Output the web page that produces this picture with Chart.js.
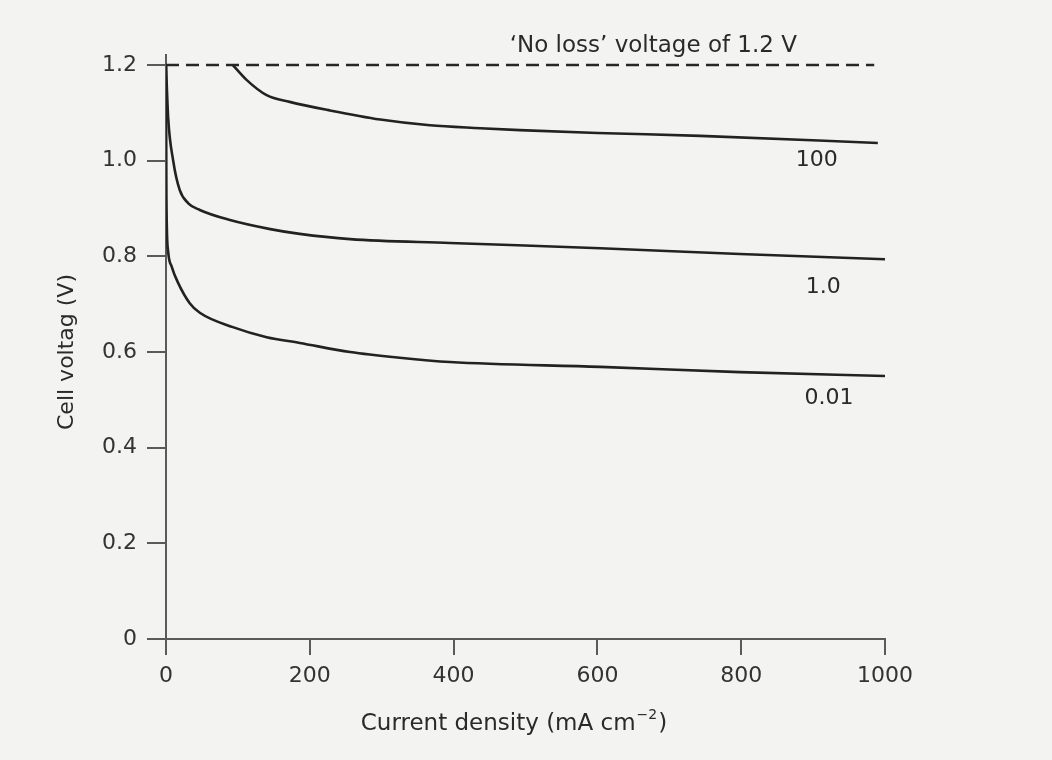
<!DOCTYPE html>
<html>
<head>
<meta charset="utf-8">
<script src="https://cdn.jsdelivr.net/npm/chart.js@4"></script>
<style>
  html, body { margin: 0; padding: 0; background: #f3f3f1; }
  #chart { display: block; }
</style>
</head>
<body>
<canvas id="chart" width="1052" height="760"></canvas>
<script>
// polarisation curves, current density in mA/cm2, cell voltage in V
const curve100X = [93, 112, 140, 172, 228, 298, 367, 437, 492, 600, 743, 990];
const curve100V = [1.2, 1.169, 1.137, 1.123, 1.105, 1.086, 1.074, 1.068, 1.064, 1.058, 1.052, 1.037];

const curve1X = [0, 3, 10, 19, 31, 47, 89, 145, 186, 256, 395, 604, 798, 1000];
const curve1V = [1.2, 1.09, 1.0, 0.939, 0.911, 0.897, 0.876, 0.857, 0.847, 0.836, 0.828, 0.817, 0.805, 0.794];

const curve001X = [0, 0.5, 1.2, 3, 8, 17, 33, 47, 93, 140, 186, 256, 325, 395, 604, 798, 1000];
const curve001V = [1.2, 0.95, 0.86, 0.81, 0.778, 0.744, 0.702, 0.682, 0.652, 0.631, 0.619, 0.600, 0.588, 0.579, 0.569, 0.558, 0.550];

const noLossX = [0, 985];
const noLossV = [1.2, 1.2];

const xTicks = [0, 200, 400, 600, 800, 1000];
const yTicks = [0, 0.2, 0.4, 0.6, 0.8, 1.0, 1.2];

const curveLabels = ['100', '1.0', '0.01'];

const toPoints = (xs, ys) => xs.map((x, i) => ({ x: x, y: ys[i] }));

const font = 'DejaVu Sans';
const ink = '#222';
const axisGrey = '#5a5a5a';

// text that is not part of the scales: curve names, the dashed line note, axis titles
const notes = {
  id: 'notes',
  afterDraw(chart) {
    const { ctx, scales: { x, y } } = chart;
    ctx.save();
    ctx.fillStyle = '#2a2a2a';
    ctx.font = '22px "' + font + '"';
    ctx.textAlign = 'center';
    ctx.textBaseline = 'middle';
    ctx.fillText(curveLabels[0], x.getPixelForValue(905), y.getPixelForValue(1.0));
    ctx.fillText(curveLabels[1], x.getPixelForValue(914), y.getPixelForValue(0.735));
    ctx.fillText(curveLabels[2], x.getPixelForValue(922), y.getPixelForValue(0.503));

    ctx.font = '23px "' + font + '"';
    ctx.textAlign = 'left';
    ctx.fillText('\u2018No loss\u2019 voltage of 1.2 V', x.getPixelForValue(478), 46);

    // y title
    ctx.save();
    ctx.font = '22px "' + font + '"';
    ctx.translate(67, 352);
    ctx.rotate(-Math.PI / 2);
    ctx.textAlign = 'center';
    ctx.fillText('Cell voltag (V)', 0, 0);
    ctx.restore();

    // x title with superscript
    const main = 'Current density (mA cm';
    const sup = '\u22122';
    const tail = ')';
    ctx.font = '23px "' + font + '"';
    const w1 = ctx.measureText(main).width;
    const w3 = ctx.measureText(tail).width;
    ctx.font = '14px "' + font + '"';
    const w2 = ctx.measureText(sup).width;
    let tx = 513 - (w1 + w2 + w3) / 2;
    const ty = 724;
    ctx.font = '23px "' + font + '"';
    ctx.fillText(main, tx, ty);
    tx += w1 + 1;
    ctx.font = '14px "' + font + '"';
    ctx.fillText(sup, tx, ty - 9);
    tx += w2 + 1;
    ctx.font = '23px "' + font + '"';
    ctx.fillText(tail, tx, ty);
    ctx.restore();
  }
};

const lineStyle = {
  borderColor: ink,
  borderWidth: 2.6,
  pointRadius: 0,
  fill: false,
  cubicInterpolationMode: 'monotone'
};

new Chart(document.getElementById('chart'), {
  type: 'line',
  data: {
    datasets: [
      { label: 'No loss', data: toPoints(noLossX, noLossV), borderColor: '#262626', borderWidth: 2.6, borderDash: [13, 7], pointRadius: 0, fill: false },
      Object.assign({ label: curveLabels[0], data: toPoints(curve100X, curve100V) }, lineStyle),
      Object.assign({ label: curveLabels[1], data: toPoints(curve1X, curve1V) }, lineStyle),
      Object.assign({ label: curveLabels[2], data: toPoints(curve001X, curve001V) }, lineStyle)
    ]
  },
  options: {
    responsive: false,
    animation: false,
    layout: { padding: { left: 0, right: 167, top: 55, bottom: 0 } },
    plugins: {
      legend: { display: false },
      tooltip: { enabled: false }
    },
    scales: {
      x: {
        type: 'linear',
        min: 0,
        max: 1000,
        afterBuildTicks: (axis) => { axis.ticks = xTicks.map(v => ({ value: v })); },
        afterFit: (axis) => { axis.height = 121; },
        ticks: {
          color: '#333',
          font: { family: font, size: 22 },
          padding: 8,
          maxRotation: 0,
          callback: (v) => String(v)
        },
        grid: { drawOnChartArea: false, drawTicks: true, tickLength: 16, color: axisGrey, lineWidth: 2 },
        border: { color: axisGrey, width: 2 }
      },
      y: {
        type: 'linear',
        min: 0,
        max: 1.221,
        afterBuildTicks: (axis) => { axis.ticks = yTicks.map(v => ({ value: v })); },
        afterFit: (axis) => { axis.width = 166; },
        ticks: {
          color: '#333',
          font: { family: font, size: 22 },
          padding: 10,
          callback: (v) => v === 0 ? '0' : v.toFixed(1)
        },
        grid: { drawOnChartArea: false, drawTicks: true, tickLength: 19, color: axisGrey, lineWidth: 2 },
        border: { color: axisGrey, width: 2 }
      }
    }
  },
  plugins: [notes]
});
</script>
</body>
</html>
